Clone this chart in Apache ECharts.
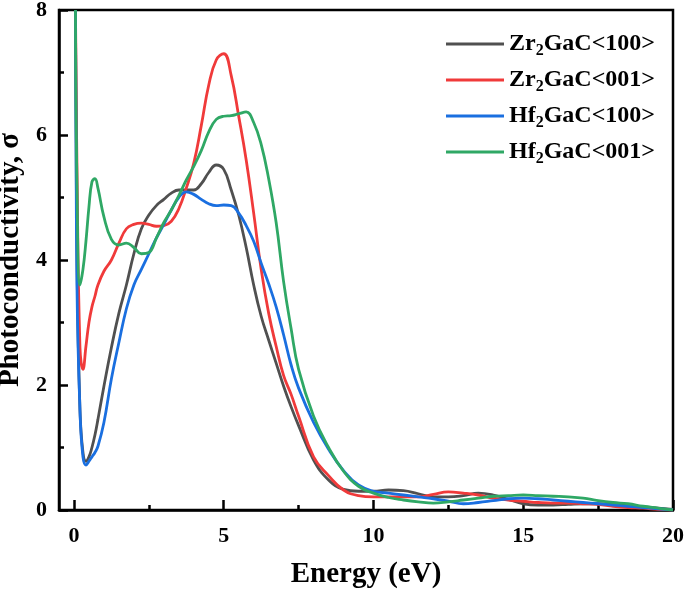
<!DOCTYPE html>
<html>
<head>
<meta charset="utf-8">
<script src="https://cdn.jsdelivr.net/npm/echarts@6/dist/echarts.min.js"></script>
<style>
html,body{margin:0;padding:0;background:#fff;}
#chart{width:685px;height:597px;}
</style>
</head>
<body>
<div id="chart"></div>
<script>
// Energy grid (eV)
const energy = [0.05,0.1,0.2,0.3,0.4,0.5,0.6,0.7,0.8,1.0,1.25,1.5,1.75,2.0,2.25,2.5,2.75,3.0,3.25,3.5,3.75,4.0,4.25,4.5,4.75,5.0,5.25,5.5,5.75,6.0,6.25,6.5,6.75,7.0,7.25,7.5,8.0,8.5,9.0,9.5,10,10.5,11,11.5,12,12.5,13,13.5,14,14.5,15,15.5,16,16.5,17,17.5,18,18.5,19,19.5,20];

const seriesNames = ['Zr2GaC<100>','Zr2GaC<001>','Hf2GaC<100>','Hf2GaC<001>'];

const zrGaC100 = [8.0,4.0,1.6,0.92,0.78,0.85,1.0,1.2,1.45,1.98,2.6,3.15,3.6,4.1,4.5,4.72,4.87,4.97,5.07,5.12,5.12,5.12,5.22,5.4,5.52,5.45,5.12,4.72,4.2,3.6,3.1,2.72,2.35,1.98,1.65,1.35,0.8,0.48,0.33,0.3,0.3,0.32,0.31,0.26,0.21,0.21,0.23,0.27,0.24,0.17,0.1,0.08,0.08,0.09,0.1,0.1,0.09,0.07,0.05,0.03,0.01];

const zrGaC001 = [8.0,5.5,2.6,2.25,2.62,3.0,3.25,3.42,3.6,3.82,4.0,4.27,4.5,4.57,4.59,4.57,4.54,4.55,4.62,4.82,5.15,5.55,6.15,6.8,7.2,7.3,6.95,6.3,5.6,4.75,3.85,3.15,2.62,2.15,1.85,1.5,0.85,0.55,0.32,0.23,0.21,0.21,0.21,0.21,0.25,0.29,0.27,0.24,0.19,0.16,0.14,0.12,0.11,0.11,0.1,0.09,0.06,0.04,0.03,0.01,0.0];

const hfGaC100 = [8.0,3.6,1.6,0.85,0.72,0.78,0.85,0.92,1.02,1.4,2.1,2.68,3.22,3.6,3.85,4.1,4.35,4.57,4.8,5.0,5.09,5.05,4.97,4.9,4.87,4.88,4.87,4.75,4.55,4.3,3.95,3.62,3.25,2.8,2.32,1.95,1.4,0.97,0.63,0.4,0.3,0.27,0.24,0.21,0.18,0.14,0.1,0.12,0.15,0.18,0.19,0.18,0.16,0.14,0.12,0.1,0.08,0.06,0.04,0.02,0.0];

const hfGaC001 = [8.0,5.2,3.6,3.85,4.3,4.85,5.25,5.3,5.15,4.69,4.33,4.24,4.27,4.2,4.1,4.12,4.35,4.6,4.8,5.03,5.28,5.5,5.75,6.05,6.25,6.3,6.31,6.34,6.37,6.2,5.85,5.3,4.6,3.65,2.9,2.25,1.5,1.0,0.62,0.38,0.27,0.2,0.16,0.13,0.11,0.13,0.16,0.19,0.22,0.23,0.24,0.23,0.22,0.21,0.19,0.15,0.12,0.1,0.06,0.03,0.0];

const xTicks = [0,5,10,15,20];
const xMinorTicks = [2.5,7.5,12.5,17.5];

const colors = ['#505050','#f03a3a','#1a6fe0','#2fa865'];
const FONT = '"Liberation Serif","Times New Roman",serif';

function pairs(vals){ return energy.map((e,i)=>[e, vals[i]]); }
const allVals = [zrGaC100, zrGaC001, hfGaC100, hfGaC001];

const chart = echarts.init(document.getElementById('chart'));
const option = {
  backgroundColor: '#fff',
  animation: false,
  grid: {left: 59, right: 12, top: 10, bottom: 87, show: true, borderColor: '#000', borderWidth: 2.5, containLabel: false, outerBoundsMode: 'none'},
  legend: {
    orient: 'vertical', left: 446, top: 29, padding: 0, itemWidth: 58, itemHeight: 3, itemGap: 6, icon: 'rect',
    data: seriesNames,
    formatter: n => n.replace('2', '{sub|2}'),
    textStyle: {
      fontFamily: FONT, fontWeight: 'bold', fontSize: 24, color: '#000', lineHeight: 30,
      rich: { sub: {fontFamily: FONT, fontWeight: 'bold', fontSize: 16, lineHeight: 15, verticalAlign: 'bottom', color: '#000'} }
    }
  },
  xAxis: [{
    type: 'value', min: -0.5, max: 20, position: 'bottom',
    name: 'Energy (eV)', nameLocation: 'middle', nameGap: 50,
    nameTextStyle: {fontFamily: FONT, fontWeight: 'bold', fontSize: 29, color: '#000'},
    axisLine: {show: true, onZero: false, lineStyle: {color: '#000', width: 2.5}},
    axisTick: {show: true, inside: true, length: 10, lineStyle: {color: '#000', width: 2.5}, customValues: xTicks},
    axisLabel: {show: true, margin: 15, fontFamily: FONT, fontWeight: 'bold', fontSize: 22, color: '#000', customValues: xTicks},
    splitLine: {show: false}
  },{
    type: 'value', min: -0.5, max: 20, position: 'bottom',
    axisLine: {show: false},
    axisTick: {show: true, inside: true, length: 5, lineStyle: {color: '#000', width: 2.5}, customValues: xMinorTicks},
    axisLabel: {show: false},
    splitLine: {show: false}
  }],
  yAxis: {
    type: 'value', min: 0, max: 8, interval: 2,
    axisLine: {show: true, onZero: false, lineStyle: {color: '#000', width: 2.5}},
    axisTick: {show: true, inside: true, length: 9, lineStyle: {color: '#000', width: 2.5}},
    minorTick: {show: true, splitNumber: 2, length: 5, lineStyle: {color: '#000', width: 2.5}},
    axisLabel: {show: true, margin: 12, fontFamily: FONT, fontWeight: 'bold', fontSize: 22, color: '#000'},
    splitLine: {show: false},
    name: 'Photoconductivity, σ', nameLocation: 'middle', nameGap: 30,
    nameTextStyle: {fontFamily: FONT, fontWeight: 'bold', fontSize: 29, color: '#000'}
  },
  series: seriesNames.map((n,i)=>({
    name: n, type: 'line', data: pairs(allVals[i]),
    smooth: 0.45, showSymbol: false, symbol: 'none',
    clip: true,
    lineStyle: {color: colors[i], width: 2.8},
    itemStyle: {color: colors[i]}
  }))
};
chart.setOption(option);
</script>
</body>
</html>
